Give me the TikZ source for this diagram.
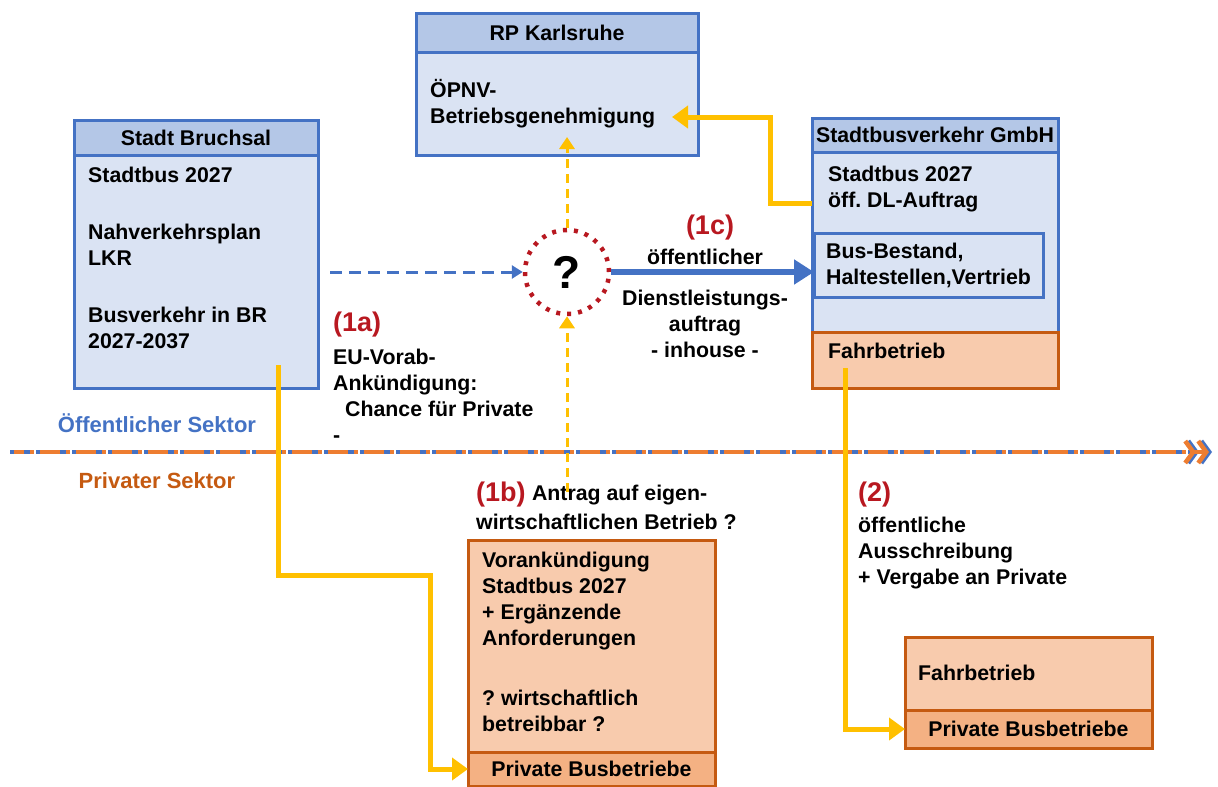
\documentclass[tikz,border=0pt]{standalone}
\usepackage{fontspec}
\setmainfont{Liberation Sans}
\usetikzlibrary{positioning,arrows.meta,calc}

\definecolor{publine}{RGB}{68,114,196}
\definecolor{pubhead}{RGB}{180,199,231}
\definecolor{pubfill}{RGB}{218,227,243}
\definecolor{privline}{RGB}{197,90,17}
\definecolor{privorange}{RGB}{237,125,49}
\definecolor{privfill}{RGB}{248,203,173}
\definecolor{privband}{RGB}{244,177,131}
\definecolor{flow}{RGB}{255,192,0}
\definecolor{steplabel}{RGB}{184,24,32}

\begin{document}
\frenchspacing
\begin{tikzpicture}[x=1pt,y=-1pt,
  every node/.style={font=\fontsize{21.3}{26}\selectfont\bfseries},
  box/.style={draw, line width=3pt, anchor=north west, inner sep=0pt, outer sep=0pt},
  pubbox/.style={box, draw=publine, fill=pubfill},
  pubtop/.style={box, draw=publine, fill=pubhead},
  privbox/.style={box, draw=privline, fill=privfill},
  privtop/.style={box, draw=privline, fill=privband},
  txt/.style={anchor=west, align=left, inner sep=0pt},
  tagfont/.style={font=\fontsize{27}{30}\selectfont\bfseries},
  tag/.style={txt, tagfont, text=steplabel},
  flowline/.style={draw=flow, line width=5pt, -{Triangle[length=16pt,width=22pt]}},
  flowdash/.style={draw=flow, line width=3pt, dash pattern=on 9pt off 6pt, -{Triangle[length=12pt,width=15pt]}},
  sector/.style={line width=4.5pt, dash pattern=on 20pt off 6pt on 4pt off 6pt}
]
\useasboundingbox (0,0) rectangle (1218,787);

% Kaesten
\node[pubbox,  minimum width=282pt, minimum height=142pt] (rp)      at (416,13)  {};
\node[pubtop,  minimum width=282pt, minimum height=39pt]  (rphead)  at (416,13)  {RP Karlsruhe};
\node[pubbox,  minimum width=244pt, minimum height=268pt] (bruch)   at (74,120)  {};
\node[pubtop,  minimum width=244pt, minimum height=35pt]  (bruchhd) at (74,120)  {Stadt Bruchsal};
\node[pubbox,  minimum width=246pt, minimum height=270pt] (sbv)     at (812,118) {};
\node[pubtop,  minimum width=246pt, minimum height=34pt]  (sbvhead) at (812,118) {Stadtbusverkehr GmbH};
\node[pubbox,  minimum width=229pt, minimum height=64pt]  (busbest) at (814,233) {};
\node[privbox, minimum width=246pt, minimum height=56pt]  (sbvfahr) at (812,332) {};
\node[privbox, minimum width=247pt, minimum height=246pt] (vorank)  at (468,540) {};
\node[privtop, minimum width=247pt, minimum height=34pt]  (vband)   at (468,752) {Private Busbetriebe};
\node[privbox, minimum width=247pt, minimum height=111pt] (priv)    at (905,637) {};
\node[privtop, minimum width=247pt, minimum height=38pt]  (pband)   at (905,710) {Private Busbetriebe};

\node[circle, draw=steplabel, line width=4.5pt, dash pattern=on 4pt off 7pt, fill=white,
      minimum size=84pt, inner sep=0pt, font=\fontsize{46}{46}\selectfont\bfseries] (q) at (567,272) {?};

% Texte
\node[txt] (rptxt)   at (430,103.5) {ÖPNV-\\Betriebsgenehmigung};
\node[txt] (bruch1)  at (88,175)    {Stadtbus 2027};
\node[txt] (bruch2)  at (88,245)    {Nahverkehrsplan\\LKR};
\node[txt] (bruch3)  at (88,327.5)  {Busverkehr in BR\\2027-2037};
\node[txt] (sbvtxt)  at (828,189.5) {Stadtbus 2027\\öff. DL-Auftrag};
\node[txt] (bestxt)  at (826,265)   {Bus-Bestand,\\Haltestellen,Vertrieb};
\node[txt] (fahrtxt) at (828,351)   {Fahrbetrieb};
\node[txt] (vortxt)  at (482,601.5) {Vorankündigung\\Stadtbus 2027\\+ Ergänzende\\Anforderungen};
\node[txt] (wirttxt) at (482,711)   {? wirtschaftlich\\betreibbar ?};
\node[txt] (privtxt) at (918,673)   {Fahrbetrieb};

\node[tagfont, text=steplabel]   (tag1c) at (710,228) {(1c)};
\node                            (oeff)  at (705,257) {öffentlicher};
\node[align=center, inner sep=0] (dla)   at (705,324) {Dienstleistungs-\\auftrag\\- inhouse -};
\node[tag] (tag1a) at (333,325) {(1a)};
\node[txt] (eu)    at (333,396) {EU-Vorab-\\Ankündigung:\\\hspace*{12pt}Chance für Private\\-};
\node[tag] (tag1b) at (476,495) {(1b)};
\node[txt] (antr)  at (tag1b.east) {\ Antrag auf eigen-};
\node[txt] (wirt)  at (476,522) {wirtschaftlichen Betrieb ?};
\node[tag] (tag2)  at (858,495) {(2)};
\node[txt] (aus)   at (858,553) {öffentliche\\Ausschreibung\\+ Vergabe an Private};

\node[text=publine,  font=\fontsize{22}{26}\selectfont\bfseries] (pubsek)  at (157,423) {Öffentlicher Sektor};
\node[text=privline, font=\fontsize{22}{26}\selectfont\bfseries] (privsek) at (157,481) {Privater Sektor};

% Sektorgrenze
\coordinate (secL) at (10,452);
\coordinate (secR) at (1212,452);
\draw[sector, publine,    -{Straight Barb[length=8pt,width=22pt] Straight Barb[length=8pt,width=22pt]}] (secL) -- (secR);
\draw[sector, privorange, dash phase=10pt,
      -{Straight Barb[length=8pt,width=22pt] Straight Barb[length=8pt,width=22pt]}] ($(secL)+(4,0)$) -- ($(secR)+(-3,0)$);

% Verbindungen
\coordinate (bluestart) at (330,272);
\coordinate (rptip)     at (567,137);
\coordinate (privstart) at (567,492);
\coordinate (dlstart)   at (812,203);
\coordinate (rpin)      at (672,117);
\coordinate (bruchout)  at (278,365);
\coordinate (fahrout)   at (845,368);

\draw[publine, line width=3pt, dash pattern=on 12pt off 7pt,
      -{Triangle[length=11pt,width=13pt]}] (bluestart) -- (q.west);
\draw[publine, line width=6pt, -{Triangle[length=20pt,width=24pt]}] (q.east) -- (q.east -| busbest.west);
\draw[flowdash] (q.north)   -- (rptip);
\draw[flowdash] (privstart) -- (q.south);
\draw[flowline] (dlstart)  -- ++(-42,0) |- (rpin);
\draw[flowline] (bruchout) -- ++(0,210) -- ++(152,0) |- (vband.west);
\draw[flowline] (fahrout)  |- (pband.west);

\end{tikzpicture}
\end{document}
